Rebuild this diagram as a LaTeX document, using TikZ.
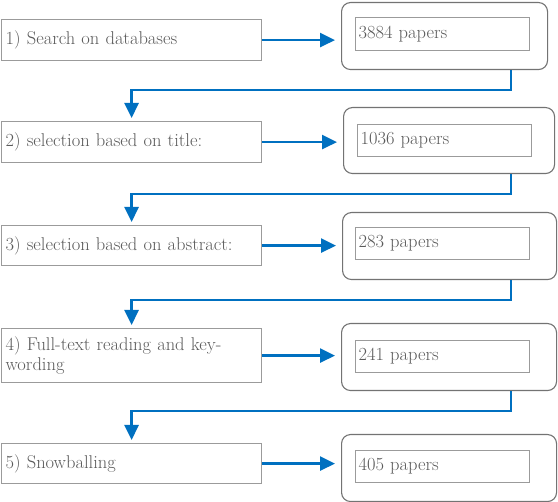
\documentclass[tikz,border=0pt]{standalone}
\usepackage{xcolor}
\usepackage{tikz}
\usetikzlibrary{arrows.meta}
\definecolor{flowblue}{RGB}{0,112,192}
\definecolor{boxgray}{RGB}{155,155,155}
\definecolor{rimgray}{RGB}{115,115,115}
\definecolor{textgray}{RGB}{90,90,90}

\begin{document}
\begin{tikzpicture}[x=1pt,y=-1pt, >={Triangle[length=15pt,width=14pt]},
    txt/.style={text=textgray,font=\fontsize{18.5}{20.5}\selectfont},
    stepbox/.style={txt,draw=boxgray,line width=1.2pt,anchor=north west,
        text width=252pt,inner xsep=4pt,inner ysep=0pt,align=left,minimum height=#1},
    rimbox/.style n args={2}{draw=rimgray,line width=1.1pt,rounded corners=9pt,
        anchor=north west,minimum width=#1,minimum height=#2,inner sep=0pt},
    countbox/.style={txt,draw=boxgray,line width=1.2pt,anchor=north west,
        text width=168pt,inner xsep=3pt,inner ysep=0pt,align=left,minimum height=32pt},
    flow/.style={flowblue,line width=2.6pt}]
    \useasboundingbox (0,0) rectangle (558,502);
    \coordinate (col) at (511,0);
    % left column: the steps
    \node[stepbox=41pt] (step1) at (1,19) {1) Search on databases};
    \node[stepbox=41pt] (step2) at (1,121) {2) selection based on title:};
    \node[stepbox=40pt] (step3) at (1,225) {3) selection based on abstract:};
    \node[stepbox=54pt] (step4) at (1,328) {4) Full-text reading and key-\\wording};
    \node[stepbox=40pt] (step5) at (1,443) {5) Snowballing};
    % right column: the counts
    \node[rimbox={206pt}{67pt}] (out1) at (341,2) {};
    \node[rimbox={211pt}{66pt}] (out2) at (343,107) {};
    \node[rimbox={214pt}{67pt}] (out3) at (342,212) {};
    \node[rimbox={215pt}{67pt}] (out4) at (341,323) {};
    \node[rimbox={215pt}{67pt}] (out5) at (341,434) {};
    \node[countbox,minimum height=33pt] (n1) at (355,17) {3884 papers};
    \node[countbox] (n2) at (357,124) {1036 papers};
    \node[countbox] (n3) at (355,227) {283 papers};
    \node[countbox] (n4) at (355,340) {241 papers};
    \node[countbox] (n5) at (355,450) {405 papers};
    % arrows
    \foreach \i in {1,...,5}
        \draw[flow,->,shorten >=6pt] (step\i.east) -- (step\i.east -| out\i.west);
    \foreach \i/\j in {1/2,2/3,3/4,4/5}
        \draw[flow,->,shorten >=3pt] (out\i.south -| col) -- ++(0,20) -| (step\j.north);
\end{tikzpicture}
\end{document}
